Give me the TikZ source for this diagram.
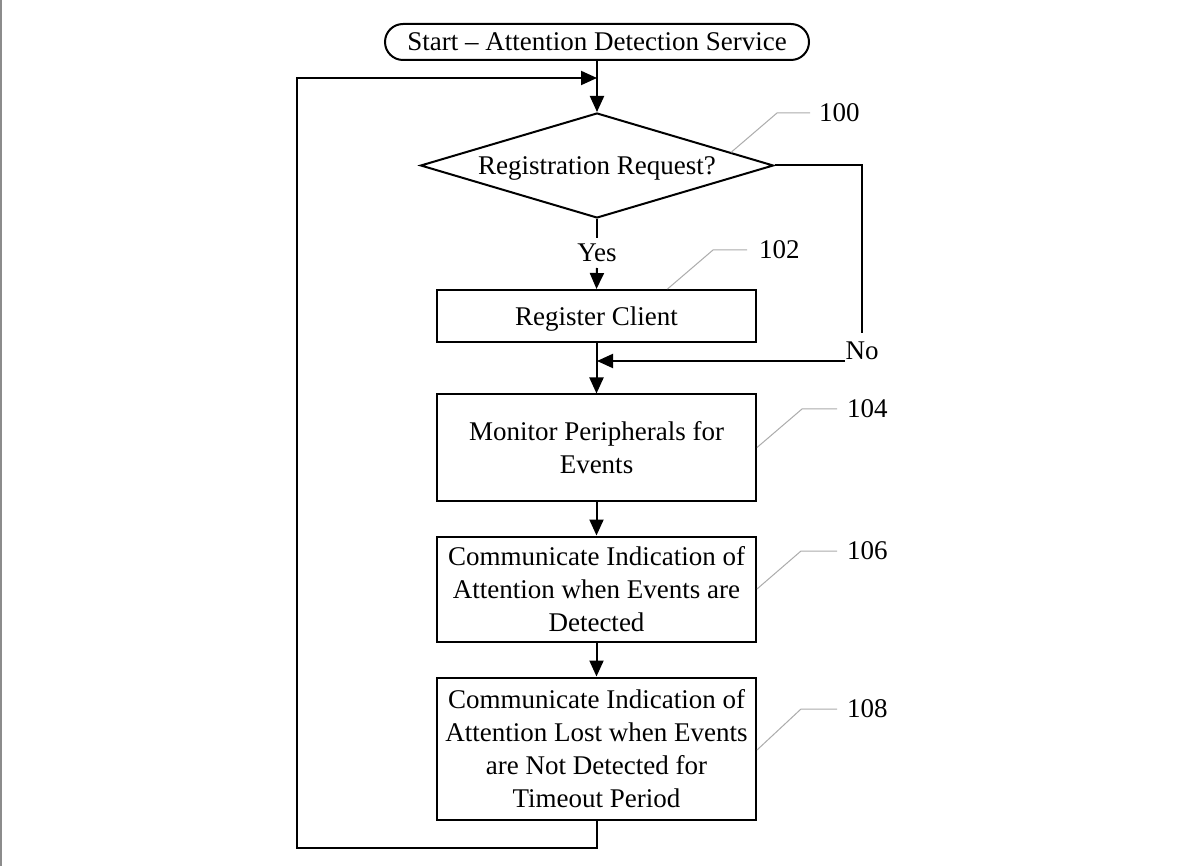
\documentclass[tikz,border=0pt]{standalone}
\usepackage{fontspec}
\setmainfont{Liberation Serif}
\usetikzlibrary{arrows.meta,shapes.geometric,calc}
\tikzset{
  term/.style={draw, rounded corners=18pt, minimum width=424pt, minimum height=36pt, inner sep=0pt},
  dec/.style={draw, diamond, aspect=3.36, minimum width=353pt, minimum height=105pt, inner sep=0pt, text depth=0pt},
  stepbox/.style={draw, minimum width=319pt, align=center, inner sep=0pt},
  lbl/.style={anchor=west, inner sep=0pt},
  leader/.style={draw=gray!65, line width=1pt},
  border/.style={draw=gray!90, line width=2pt},
}
\begin{document}
\begin{tikzpicture}[x=1pt,y=-1pt, line width=2pt, font=\fontsize{27}{33}\selectfont,
  >={Triangle[length=16pt,width=14pt]}]
\useasboundingbox (0,0) rectangle (1200,866);
\fill[white] (0,0) rectangle (1200,866);
\coordinate (bt) at (1,0);
\coordinate (bb) at (1,866);
\path[border] (bt) -- (bb);

\node[term] (start) at (597,42) {Start – Attention Detection Service};
\node[dec] (d100) at (597,165.5) {Registration Request?};
\node[stepbox, minimum height=52pt, text depth=0pt] (b102) at (596.5,316) {Register Client};
\node[stepbox, minimum height=106pt] (b104) at (596.5,447.5) {Monitor Peripherals for\\Events};
\node[stepbox, minimum height=105pt] (b106) at (596.5,589) {Communicate Indication of\\Attention when Events are\\Detected};
\node[stepbox, minimum height=142pt] (b108) at (596.5,748.5) {Communicate Indication of\\Attention Lost when Events\\are Not Detected for\\Timeout Period};

\node[anchor=base, inner sep=0pt] (yes) at (597,262) {Yes};
\node[anchor=base, inner sep=0pt] (no) at (862,360) {No};

\node[lbl] (l100) at (818,113) {100};
\node[lbl] (l102) at (758,250) {102};
\node[lbl] (l104) at (846,409) {104};
\node[lbl] (l106) at (846,551) {106};
\node[lbl] (l108) at (846,709) {108};

% connectors
\coordinate (jtop) at (597,78);
\coordinate (lb) at (297,848);
\draw[->] (start) -- (d100);
\draw[->] (b108.south) |- (lb) |- (jtop);

\coordinate (yesT) at (597,238);
\coordinate (yesB) at (597,268);
\draw (d100.south) -- (yesT);
\draw[->] (yesB) -- (b102.north);

\coordinate (noT) at (862,333);
\coordinate (noB) at (845,361);
\coordinate (j102) at (597,361);
\draw (d100.east) -| (noT);
\draw[->] (noB) -- (j102);

\draw[->] (b102) -- (b104);
\draw[->] (b104) -- (b106);
\draw[->] (b106) -- (b108);

% leaders
\path[leader] ($(d100.north)!0.755!(d100.east)$) -- (777,113) -- ([xshift=-8pt]l100.west);
\path[leader] ([xshift=71pt]b102.north) -- (713,250) -- ([xshift=-11pt]l102.west);
\path[leader] (b104.east) -- (802,409) -- ([xshift=-9pt]l104.west);
\path[leader] (b106.east) -- (801,551) -- ([xshift=-9pt]l106.west);
\path[leader] ([yshift=-1.5pt]b108.east) -- (801,709) -- ([xshift=-9pt]l108.west);
\end{tikzpicture}
\end{document}
